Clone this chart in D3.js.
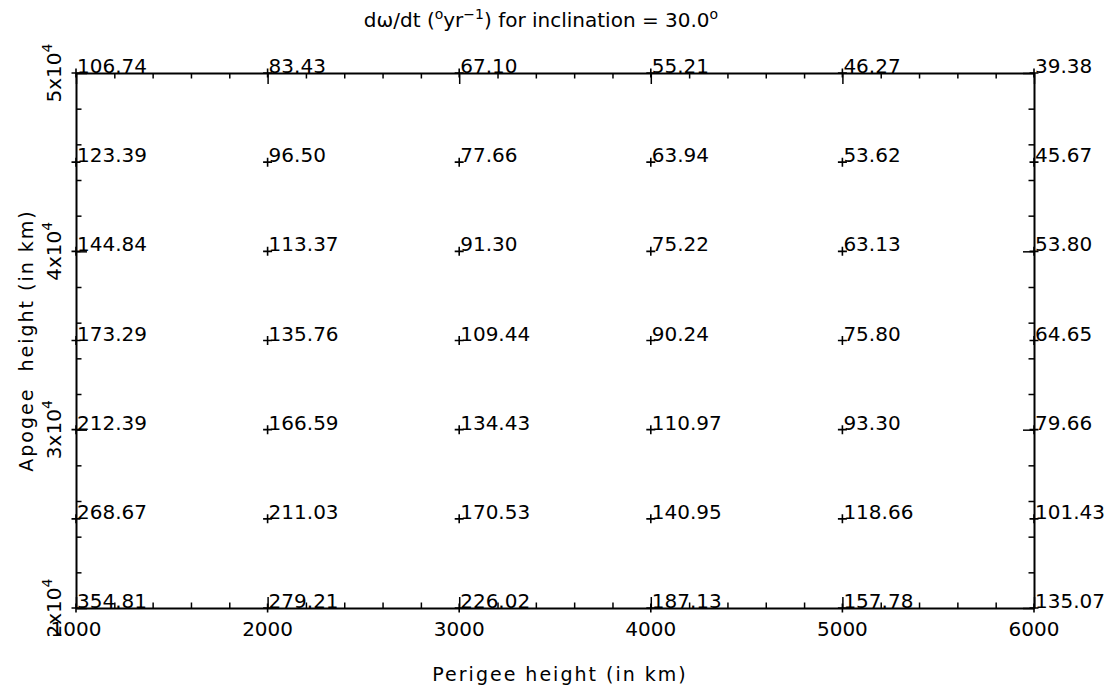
<!DOCTYPE html>
<html>
<head>
<meta charset="utf-8">
<script src="https://cdn.jsdelivr.net/npm/d3@7"></script>
<style>
  html, body { margin: 0; padding: 0; background: #fff; }
  svg text { font-family: "DejaVu Sans", sans-serif; fill: #000; }
</style>
</head>
<body>
<div id="chart"></div>
<script>
// ---- data ----
const perigee = [1000, 2000, 3000, 4000, 5000, 6000];           // x grid (km)
const apogee = [50000, 45000, 40000, 35000, 30000, 25000, 20000]; // y grid (km)
const row50000 = [106.74, 83.43, 67.10, 55.21, 46.27, 39.38];
const row45000 = [123.39, 96.50, 77.66, 63.94, 53.62, 45.67];
const row40000 = [144.84, 113.37, 91.30, 75.22, 63.13, 53.80];
const row35000 = [173.29, 135.76, 109.44, 90.24, 75.80, 64.65];
const row30000 = [212.39, 166.59, 134.43, 110.97, 93.30, 79.66];
const row25000 = [268.67, 211.03, 170.53, 140.95, 118.66, 101.43];
const row20000 = [354.81, 279.21, 226.02, 187.13, 157.78, 135.07];
const rows = [row50000, row45000, row40000, row35000, row30000, row25000, row20000];
const xTickLabels = ["1000", "2000", "3000", "4000", "5000", "6000"];
const yTickMantissa = ["2", "3", "4", "5"];
const yTickValues = [20000, 30000, 40000, 50000];

// ---- layout ----
const W = 1116, H = 687;
const mL = 76, mR = 1034, mT = 73, mB = 608;

const svg = d3.select("#chart").append("svg").attr("width", W).attr("height", H);

const x = d3.scaleLinear().domain([1000, 6000]).range([mL, mR]);
const y = d3.scaleLinear().domain([20000, 50000]).range([mB, mT]);

const xMinor = d3.range(1000, 6001, 200);
const yMinor = d3.range(20000, 50001, 2000);

function tickLen(v, step) { return (v % step === 0) ? 11 : 5.5; }

// bottom axis (ticks inward)
const gB = svg.append("g").attr("transform", `translate(0,${mB})`)
  .call(d3.axisBottom(x).tickValues(xMinor).tickFormat("").tickSizeOuter(0));
gB.selectAll(".tick line").attr("y2", d => -tickLen(d, 1000)).attr("stroke-width", 1.5);
// top axis
const gT = svg.append("g").attr("transform", `translate(0,${mT})`)
  .call(d3.axisTop(x).tickValues(xMinor).tickFormat("").tickSizeOuter(0));
gT.selectAll(".tick line").attr("y2", d => tickLen(d, 1000)).attr("stroke-width", 1.5);
// left axis
const gL = svg.append("g").attr("transform", `translate(${mL},0)`)
  .call(d3.axisLeft(y).tickValues(yMinor).tickFormat("").tickSizeOuter(0));
gL.selectAll(".tick line").attr("x2", d => tickLen(d, 10000)).attr("stroke-width", 1.5);
// right axis
const gR = svg.append("g").attr("transform", `translate(${mR},0)`)
  .call(d3.axisRight(y).tickValues(yMinor).tickFormat("").tickSizeOuter(0));
gR.selectAll(".tick line").attr("x2", d => -tickLen(d, 10000)).attr("stroke-width", 1.5);

[gB, gT, gL, gR].forEach(g => {
  g.select(".domain").attr("stroke", "#000").attr("stroke-width", 2);
  g.selectAll(".tick line").attr("stroke", "#000");
});

// x tick labels
svg.append("g").selectAll("text").data(xTickLabels).join("text")
  .attr("x", (d, i) => x(perigee[i]))
  .attr("y", 636)
  .attr("text-anchor", "middle")
  .attr("font-size", 20)
  .text(d => d);

// y tick labels (rotated, with superscript)
const yl = svg.append("g").selectAll("text").data(yTickValues).join("text")
  .attr("transform", d => `translate(61,${y(d)}) rotate(-90)`)
  .attr("text-anchor", "middle")
  .attr("font-size", 20);
yl.append("tspan").text((d, i) => yTickMantissa[i] + "x10");
yl.append("tspan").attr("font-size", 14).attr("dy", -9).text("4");

// axis titles
svg.append("text").attr("x", 560).attr("y", 681)
  .attr("text-anchor", "middle").attr("font-size", 19)
  .attr("letter-spacing", 2)
  .text("Perigee height (in km)");
svg.append("text")
  .attr("transform", `translate(33,${(mT + mB) / 2}) rotate(-90)`)
  .attr("text-anchor", "middle").attr("font-size", 19)
  .attr("letter-spacing", 2)
  .attr("xml:space", "preserve").style("white-space", "pre")
  .text("Apogee  height (in km)");

// title
const title = svg.append("text").attr("x", 541).attr("y", 27)
  .attr("text-anchor", "middle").attr("font-size", 20);
title.append("tspan").text("dω/dt (");
title.append("tspan").attr("font-size", 14).attr("dy", -8).text("o");
title.append("tspan").attr("dy", 8).text("yr");
title.append("tspan").attr("font-size", 14).attr("dy", -8).text("−1");
title.append("tspan").attr("dy", 8).text(") for inclination = 30.0");
title.append("tspan").attr("font-size", 14).attr("dy", -8).text("o");

// grid points and values
const cells = [];
rows.forEach((r, ri) => r.forEach((v, ci) => cells.push({ px: perigee[ci], ap: apogee[ri], v })));

const g = svg.append("g");
g.selectAll("path.mk").data(cells).join("path")
  .attr("class", "mk")
  .attr("d", d => { const cx = x(d.px), cy = y(d.ap); return `M${cx - 4.5},${cy}H${cx + 4.5}M${cx},${cy - 4.5}V${cy + 4.5}`; })
  .attr("stroke", "#000").attr("stroke-width", 1.6).attr("fill", "none");
g.selectAll("text").data(cells).join("text")
  .attr("x", d => x(d.px) + 1)
  .attr("y", d => y(d.ap))
  .attr("font-size", 20)
  .text(d => d.v.toFixed(2));
</script>
</body>
</html>
